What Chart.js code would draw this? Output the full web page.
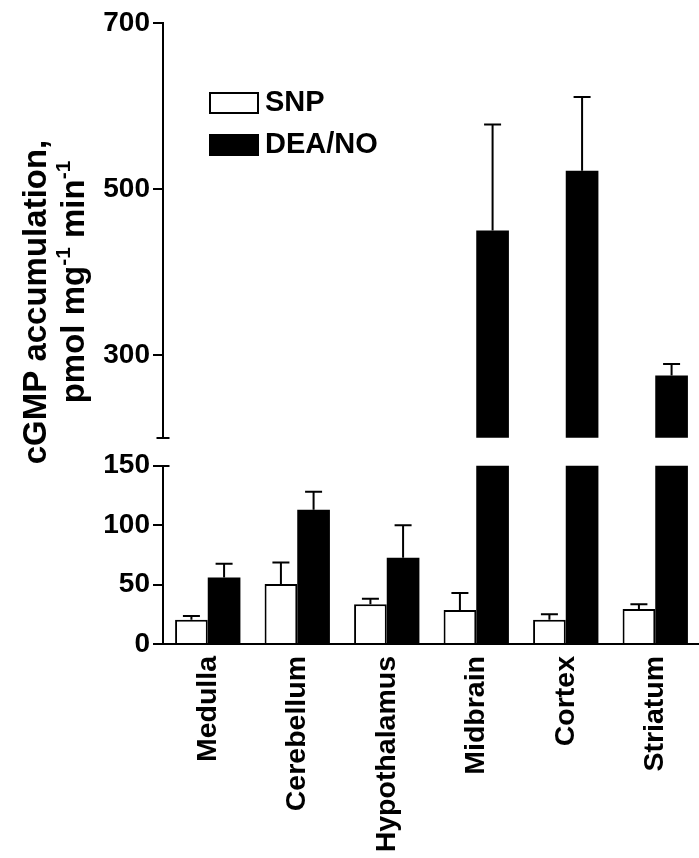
<!DOCTYPE html>
<html><head><meta charset="utf-8">
<script src="https://cdn.jsdelivr.net/npm/chart.js@4.4.0/dist/chart.umd.min.js"></script>
<style>
html,body{margin:0;padding:0;background:#fff;overflow:hidden;width:699px;height:858px;}
#wrap{position:relative;width:699px;height:858px;overflow:hidden;background:#fff;}
canvas{position:absolute;left:0;top:0;}
</style></head><body>
<div id="wrap">
<canvas id="low" width="700" height="858"></canvas>
<canvas id="high" width="700" height="858"></canvas>
</div>
<script>
// ---- data ----
const categories = ['Medulla', 'Cerebellum', 'Hypothalamus', 'Midbrain', 'Cortex', 'Striatum'];
const seriesNames = ['SNP', 'DEA/NO'];
const snpValues = [20.5, 50.5, 33.5, 28.5, 20.5, 29.5];
const snpErrors = [3, 18, 4.5, 14.5, 4.5, 4];
const deaValues = [56, 113, 72.5, 450, 522, 275];
const deaErrors = [11.5, 15, 27.5, 128, 89, 14];
const lowTicks = [0, 50, 100, 150];
const highTicks = [300, 500, 700];
const lowRange = [0, 150];
const highRange = [200, 700];
const titleLine1 = 'cGMP accumulation,';
const titleLine2 = [['pmol mg', false], ['-1', true], [' min', false], ['-1', true]];

// ---- style ----
const FONT = "'Liberation Sans', Arial, Helvetica, sans-serif";
const W = 700, H = 858;
const AXIS_X = 163;
const LOW_TOP = 465.7, LOW_BOTTOM = 644;
const HIGH_TOP = 23.3, HIGH_BOTTOM = 437.7;

function datasets() {
  return [
    { label: seriesNames[0], data: snpValues, errors: snpErrors, backgroundColor: '#ffffff',
      borderColor: '#000', borderWidth: 2, borderSkipped: 'start', clip: 0,
      categoryPercentage: 0.73, barPercentage: 1.0 },
    { label: seriesNames[1], data: deaValues, errors: deaErrors, backgroundColor: '#000000',
      borderColor: '#000', borderWidth: 0, clip: 0,
      categoryPercentage: 0.73, barPercentage: 1.0 }
  ];
}

const errorBars = {
  id: 'errorBars',
  afterDatasetsDraw(chart) {
    const ctx = chart.ctx, ys = chart.scales.y;
    ctx.save();
    ctx.strokeStyle = '#000'; ctx.lineWidth = 2;
    chart.data.datasets.forEach((ds, di) => {
      const meta = chart.getDatasetMeta(di);
      ds.data.forEach((v, i) => {
        if (v < ys.min || v > ys.max) return;
        const x = meta.data[i].x;
        const y0 = ys.getPixelForValue(v);
        const y1 = ys.getPixelForValue(v + ds.errors[i]);
        ctx.beginPath();
        ctx.moveTo(x, y0); ctx.lineTo(x, y1);
        ctx.moveTo(x - 8.5, y1); ctx.lineTo(x + 8.5, y1);
        ctx.stroke();
      });
    });
    ctx.restore();
  }
};

const breakMarks = {
  id: 'breakMarks',
  afterDraw(chart, args, opts) {
    const ctx = chart.ctx, ys = chart.scales.y;
    const x = chart.chartArea.left;
    ctx.save(); ctx.strokeStyle = '#000'; ctx.lineWidth = 2;
    ctx.beginPath();
    if (opts.part === 'low') {
      const y = Math.round(ys.getPixelForValue(ys.max));
      ctx.moveTo(x, y); ctx.lineTo(x + 6.5, y);
    } else {
      const y = Math.round(ys.getPixelForValue(ys.min));
      ctx.moveTo(x - 6.5, y); ctx.lineTo(x + 6.5, y);
    }
    ctx.stroke(); ctx.restore();
  }
};

const boxLegend = {
  id: 'boxLegend',
  afterDraw(chart) {
    const ctx = chart.ctx;
    const rows = [92, 134];
    ctx.save();
    chart.data.datasets.forEach((ds, i) => {
      const y = rows[i];
      ctx.fillStyle = ds.backgroundColor;
      ctx.fillRect(209, y, 50, 22);
      if (ds.borderWidth) { ctx.strokeStyle = '#000'; ctx.lineWidth = 2; ctx.strokeRect(210, y + 1, 48, 20); }
      ctx.fillStyle = '#000';
      ctx.font = 'bold 29px ' + FONT;
      ctx.textBaseline = 'middle'; ctx.textAlign = 'left';
      ctx.fillText(ds.label, 265, y + 11);
    });
    ctx.restore();
  }
};

const axisTitle = {
  id: 'axisTitle',
  afterDraw(chart) {
    const ctx = chart.ctx;
    ctx.save();
    ctx.fillStyle = '#000';
    ctx.rotate(-Math.PI / 2);
    const big = 'bold 33px ' + FONT, small = 'bold 21px ' + FONT;
    ctx.textBaseline = 'alphabetic';
    ctx.font = big; ctx.textAlign = 'center';
    ctx.fillText(titleLine1, -302, 46);
    // rich line 2
    let total = 0;
    titleLine2.forEach(([t, sup]) => { ctx.font = sup ? small : big; total += ctx.measureText(t).width; });
    let x = -282 - total / 2;
    ctx.textAlign = 'left';
    titleLine2.forEach(([t, sup]) => {
      ctx.font = sup ? small : big;
      ctx.fillText(t, x, sup ? 84 - 14 : 84);
      x += ctx.measureText(t).width;
    });
    ctx.restore();
  }
};

function yScale(range, ticks) {
  return {
    type: 'linear', min: range[0], max: range[1],
    afterBuildTicks: s => { s.ticks = ticks.map(v => ({ value: v })); },
    afterFit: s => { s.width = AXIS_X; },
    border: { display: true, color: '#000', width: 2 },
    grid: { display: true, drawOnChartArea: false, drawTicks: true, tickLength: 10, color: '#000', lineWidth: 2 },
    ticks: { color: '#000', font: { family: FONT, size: 28, weight: 'bold' }, padding: 3 }
  };
}

Chart.defaults.animation = false;

new Chart(document.getElementById('low'), {
  type: 'bar',
  data: { labels: categories, datasets: datasets() },
  options: {
    responsive: false, animation: false,
    layout: { padding: { top: LOW_TOP, bottom: 0, left: 0, right: 0 } },
    plugins: { legend: { display: false }, tooltip: { enabled: false }, breakMarks: { part: 'low' } },
    scales: {
      x: {
        type: 'category', offset: true,
        afterFit: s => { s.height = H - LOW_BOTTOM; },
        border: { display: true, color: '#000', width: 2 },
        grid: { display: false },
        ticks: { color: '#000', font: { family: FONT, size: 28.5, weight: 'bold' }, minRotation: 90, maxRotation: 90, padding: 4, autoSkip: false }
      },
      y: yScale(lowRange, lowTicks)
    }
  },
  plugins: [errorBars, breakMarks, axisTitle]
});

new Chart(document.getElementById('high'), {
  type: 'bar',
  data: { labels: categories, datasets: datasets() },
  options: {
    responsive: false, animation: false,
    layout: { padding: { top: HIGH_TOP, bottom: H - HIGH_BOTTOM, left: 0, right: 0 } },
    plugins: { legend: { display: false }, tooltip: { enabled: false }, breakMarks: { part: 'high' } },
    scales: {
      x: { type: 'category', offset: true, display: false },
      y: yScale(highRange, highTicks)
    }
  },
  plugins: [errorBars, breakMarks, boxLegend]
});
</script>
</body></html>
